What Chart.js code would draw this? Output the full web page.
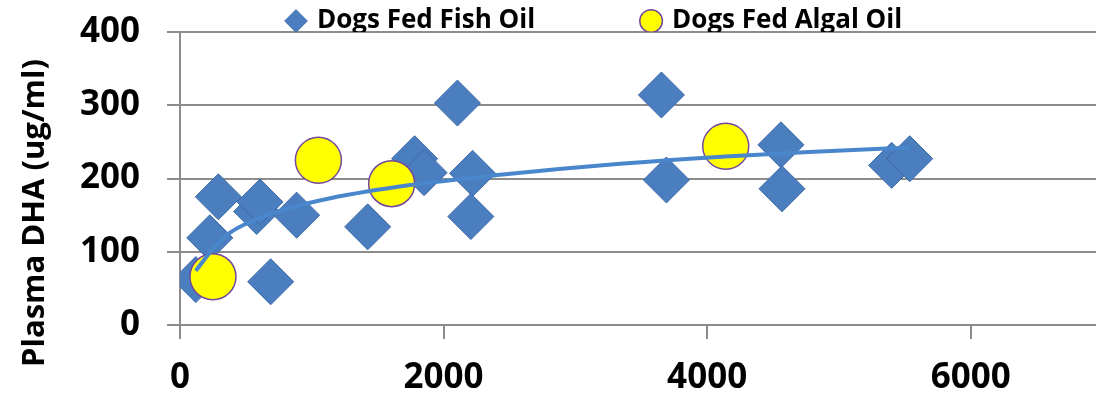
<!DOCTYPE html>
<html>
<head>
<meta charset="utf-8">
<script src="https://cdn.jsdelivr.net/npm/chart.js@4/dist/chart.umd.min.js"></script>
<style>
  html, body { margin: 0; padding: 0; background: #fff; overflow: hidden; }
  /* the legend needs a big item gap, so its top slack is pushed above the window */
  canvas { display: block; margin-top: -100px; }
</style>
</head>
<body>
<canvas id="myChart" width="1127" height="499" style="width:1127px;height:499px"></canvas>
<script>
// values
var fishX = [120, 226, 291, 582, 607, 688, 885, 1424, 1780, 1852, 2105, 2220, 2207, 3653, 3691, 4560, 4568, 5400, 5537];
var fishY = [62, 119, 175, 155, 168, 59, 150, 134, 227, 208, 303, 207, 148, 314, 198, 246, 186, 218, 227];

var algalX = [250, 1050, 1606, 4141];
var algalY = [66, 225, 193, 244];

// trend line (log curve in the original)
var trendX = [120, 250, 380, 560, 760, 1140, 1745, 2430, 3340, 4140, 5360, 5537];
var trendY = [74, 104, 126, 143, 156, 173, 191, 205, 220, 230, 241, 242];

var xTicks = [0, 2000, 4000, 6000];
var yTicks = [0, 100, 200, 300, 400];

var labels = ['Dogs Fed Fish Oil', 'Dogs Fed Algal Oil', 'Trend'];
var yTitle = 'Plasma DHA (ug/ml)';

function toPoints(xs, ys) {
    var out = [];
    for (var i = 0; i < xs.length; i++) {
        out.push({x: xs[i], y: ys[i]});
    }
    return out;
}

var gridGray = '#8c8c8c';

// y axis title, sits a bit lower than the axis middle like the original
var yTitlePlugin = {
    id: 'yTitle',
    afterDraw: function(chart) {
        var c = chart.ctx;
        c.save();
        c.translate(35, 313);
        c.rotate(-Math.PI / 2);
        c.font = 'bold 31px "Open Sans"';
        c.fillStyle = '#000';
        c.textAlign = 'center';
        c.textBaseline = 'middle';
        c.fillText(yTitle, 0, 0);
        c.restore();
    }
};

var data = {
    datasets: [{
        label: labels[0],
        data: toPoints(fishX, fishY),
        pointStyle: 'rectRot',
        pointRadius: 23,
        pointHoverRadius: 23,
        backgroundColor: '#4a7ebf',
        borderColor: '#3b69a6',
        borderWidth: 1,
        order: 2
    }, {
        label: labels[1],
        data: toPoints(algalX, algalY),
        pointStyle: 'circle',
        pointRadius: 23,
        pointHoverRadius: 23,
        backgroundColor: '#ffff00',
        borderColor: '#74489c',
        borderWidth: 1.5,
        order: 1
    }, {
        label: labels[2],
        data: toPoints(trendX, trendY),
        showLine: true,
        pointRadius: 0,
        pointHoverRadius: 0,
        borderColor: '#4a86cc',
        backgroundColor: '#4a86cc',
        borderWidth: 4,
        cubicInterpolationMode: 'monotone',
        order: 0
    }]
};

var ctx = document.getElementById('myChart').getContext('2d');
var myChart = new Chart(ctx, {
    type: 'scatter',
    data: data,
    plugins: [yTitlePlugin],
    options: {
        responsive: false,
        animation: false,
        devicePixelRatio: 1,
        layout: {
            padding: {top: 0, left: 0, right: 7, bottom: 0}
        },
        plugins: {
            tooltip: {enabled: false},
            legend: {
                position: 'top',
                align: 'start',
                fullSize: false,
                maxHeight: 132,
                labels: {
                    usePointStyle: true,
                    boxWidth: 16,
                    boxHeight: 16,
                    padding: 108,
                    color: '#000',
                    font: {family: 'Open Sans', size: 26, weight: 'bold'},
                    filter: function(item) { return item.datasetIndex < 2; },
                    sort: function(a, b) { return a.datasetIndex - b.datasetIndex; }
                }
            }
        },
        scales: {
            x: {
                type: 'linear',
                min: 0,
                max: 7000,
                afterBuildTicks: function(scale) {
                    scale.ticks = xTicks.map(function(v) { return {value: v}; });
                },
                afterFit: function(scale) {
                    scale.height = 74;
                    scale.paddingLeft = 0;
                    scale.paddingRight = 0;
                },
                grid: {
                    drawOnChartArea: false,
                    drawTicks: true,
                    tickLength: 14,
                    color: gridGray,
                    lineWidth: 2
                },
                border: {display: true, color: gridGray, width: 2},
                ticks: {
                    padding: 18,
                    maxRotation: 0,
                    color: '#000',
                    font: {family: 'Open Sans', size: 35, weight: 'bold'},
                    callback: function(v) { return String(v); }
                }
            },
            y: {
                min: 0,
                max: 400,
                afterBuildTicks: function(scale) {
                    scale.ticks = yTicks.map(function(v) { return {value: v}; });
                },
                afterFit: function(scale) { scale.width = 180; },
                grid: {
                    drawTicks: true,
                    tickLength: 13,
                    color: gridGray,
                    lineWidth: 2
                },
                border: {display: true, color: gridGray, width: 2},
                ticks: {
                    padding: 27,
                    color: '#000',
                    font: {family: 'Open Sans', size: 35, weight: 'bold'},
                    callback: function(v) { return String(v); }
                }
            }
        }
    }
});
</script>
</body>
</html>
